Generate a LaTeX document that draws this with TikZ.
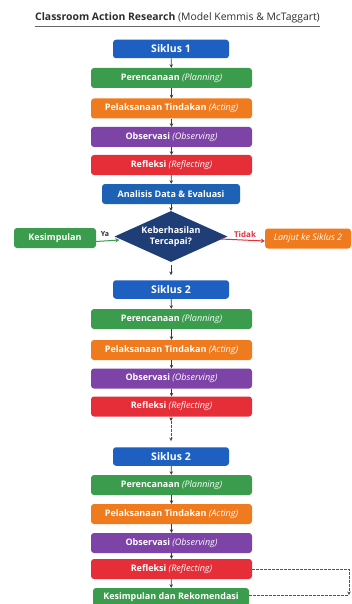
\documentclass[tikz,border=0pt]{standalone}
\usepackage{fontspec}
\setmainfont{Open Sans}
\usetikzlibrary{shapes.geometric,arrows.meta}
\definecolor{cblue}{HTML}{1E5FC2}
\definecolor{cblue2}{HTML}{1D62B5}
\definecolor{cgreen}{HTML}{3A9C4C}
\definecolor{corange}{HTML}{F07B1E}
\definecolor{cpurple}{HTML}{7D43A6}
\definecolor{cred}{HTML}{E62E38}
\definecolor{cnavy}{HTML}{1F3E78}
\definecolor{ctitle}{HTML}{2E2E2E}
\definecolor{carrow}{HTML}{3A3A3A}
\definecolor{cdash}{HTML}{555555}
\begin{document}
\begin{tikzpicture}[x=1pt,y=-1pt,
  box/.style={rounded corners=3pt,text=white,inner sep=0pt,anchor=center,
    font=\bfseries\fontsize{9}{10.5}\selectfont,minimum height=20pt},
  cyc/.style={box,fill=cblue,minimum width=116pt,minimum height=18.5pt,
    font=\bfseries\fontsize{10.5}{12}\selectfont},
  stage/.style={box,minimum width=161pt},
  arr/.style={draw=carrow,line width=0.7pt,-{Stealth[length=3.5pt,width=3.5pt]}},
  dsh/.style={draw=cdash,line width=0.8pt,dash pattern=on 2.5pt off 1.5pt}
]
\useasboundingbox (0,0) rectangle (351,604);
\fill[white] (0,0) rectangle (351,604);

% title
\node[anchor=base west,inner sep=0pt,text=ctitle,font=\fontsize{10.4}{12}\selectfont]
  (title) at (35,20.5) {\bfseries Classroom Action Research \mdseries(Model Kemmis \& McTaggart)};
\coordinate (ul1) at (35,26.5);
\coordinate (ul2) at (320,26.5);
\draw[line width=1.3pt,draw=gray!80!black] (ul1) -- (ul2);

% cycle 1
\node[cyc] (s1) at (171,49) {Siklus 1};
\node[stage,fill=cgreen] (p1) at (171.5,78) {Perencanaan \mdseries\itshape(Planning)};
\node[stage,fill=corange] (a1) at (171.5,108.5) {Pelaksanaan Tindakan \mdseries\itshape(Acting)};
\node[stage,fill=cpurple] (o1) at (171.5,137) {Observasi \mdseries\itshape(Observing)};
\node[stage,fill=cred] (r1) at (171.5,165) {Refleksi \mdseries\itshape(Reflecting)};
\node[box,fill=cblue2,minimum width=138pt] (an) at (171,194) {Analisis Data \& Evaluasi};
\node[diamond,fill=cnavy,text=white,inner sep=0pt,aspect=2.2,minimum width=113pt,minimum height=51pt,
  align=center,font=\bfseries\fontsize{9}{11}\selectfont] (d) at (171,236.5) {Keberhasilan\\Tercapai?};
\node[box,fill=cgreen,minimum width=82pt] (kes) at (55,238) {Kesimpulan};
\node[box,fill=corange,minimum width=86pt,font=\mdseries\itshape\fontsize{9}{10.5}\selectfont] (lanjut) at (308,238.5) {Lanjut ke Siklus 2};

\draw[arr] (s1) -- (p1);
\draw[arr] (p1) -- (a1);
\draw[arr] (a1) -- (o1);
\draw[arr] (o1) -- (r1);
\draw[arr] (r1) -- (an);
\draw[arr] (an) -- (d);
\draw[draw=cgreen,line width=1pt,-{Stealth[length=4pt,width=4.5pt]}] ([yshift=-3.5pt]kes.east) -- ([yshift=-3.5pt,xshift=5pt]d.west);
\node[text=ctitle,inner sep=0pt,font=\bfseries\fontsize{7}{8}\selectfont] (ya) at (105,234.5) {Ya};
\draw[draw=cred,line width=1pt,-{Stealth[length=4pt,width=4.5pt]}] ([yshift=-2.5pt,xshift=-7pt]d.east) -- ([yshift=-2.5pt]lanjut.west);
\node[text=cred,inner sep=0pt,font=\bfseries\fontsize{8}{9}\selectfont] (tidak) at (245,234) {Tidak};

% cycle 2
\node[cyc] (s2) at (171,289.5) {Siklus 2};
\draw[arr,shorten <=3pt,shorten >=5pt] (d) -- (s2);
\node[stage,fill=cgreen] (p2) at (171.5,319) {Perencanaan \mdseries\itshape(Planning)};
\node[stage,fill=corange] (a2) at (171.5,350) {Pelaksanaan Tindakan \mdseries\itshape(Acting)};
\node[stage,fill=cpurple] (o2) at (171.5,378.5) {Observasi \mdseries\itshape(Observing)};
\node[stage,fill=cred] (r2) at (171.5,406.5) {Refleksi \mdseries\itshape(Reflecting)};
\draw[arr] (s2) -- (p2);
\draw[arr] (p2) -- (a2);
\draw[arr] (a2) -- (o2);
\draw[arr] (o2) -- (r2);

% cycle n
\node[cyc] (s3) at (171,456.5) {Siklus 2};
\node[stage,fill=cgreen] (p3) at (171.5,485) {Perencanaan \mdseries\itshape(Planning)};
\node[stage,fill=corange] (a3) at (171.5,514) {Pelaksanaan Tindakan \mdseries\itshape(Acting)};
\node[stage,fill=cpurple] (o3) at (171.5,543) {Observasi \mdseries\itshape(Observing)};
\node[stage,fill=cred] (r3) at (171.5,569) {Refleksi \mdseries\itshape(Reflecting)};
\node[box,fill=cgreen,minimum width=156pt,minimum height=18pt] (fin) at (171,597) {Kesimpulan dan Rekomendasi};
\draw[arr] (s3) -- (p3);
\draw[arr] (p3) -- (a3);
\draw[arr] (a3) -- (o3);
\draw[arr] (o3) -- (r3);
\draw[arr] (r3) -- (fin);

\coordinate (mid) at (171,421);
\draw[arr] (r2) -- (mid);
\draw[arr,dsh,shorten >=6pt] (mid) -- (s3);

\coordinate (cr) at (349,595);
\draw[dsh,-{Stealth[length=3.5pt,width=3.5pt]}] (r3.east) -| (cr);
\draw[dsh] (fin.east |- cr) -- (cr);
\end{tikzpicture}
\end{document}
